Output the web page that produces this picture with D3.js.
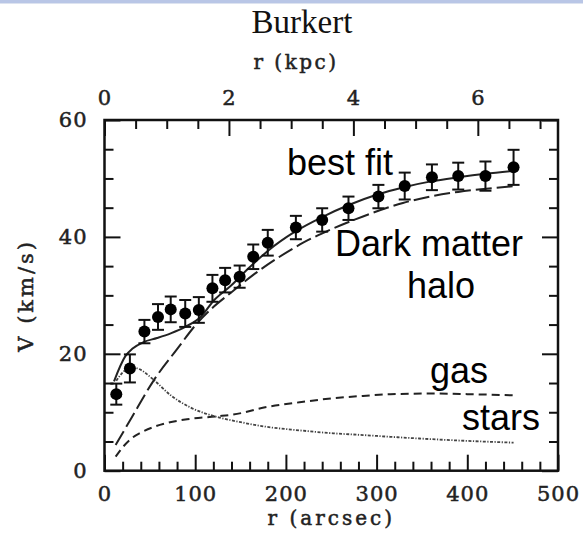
<!DOCTYPE html>
<html>
<head>
<meta charset="utf-8">
<script src="https://cdn.jsdelivr.net/npm/d3@7"></script>
<style>
  html, body { margin: 0; padding: 0; background: #fff; }
  svg { display: block; }
</style>
</head>
<body>
<svg id="chart" width="583" height="547"></svg>
<script>
// ---- data ----
const obsR   = [13, 28, 44, 59, 73, 89, 104, 119, 133, 149, 164, 180, 211, 240, 269, 302, 331, 361, 390, 420, 451];
const obsV   = [13.1, 17.5, 23.8, 26.3, 27.6, 26.9, 27.5, 31.2, 32.6, 33.2, 36.6, 39.0, 41.6, 42.9, 44.9, 46.9, 48.7, 50.2, 50.4, 50.4, 51.9];
const obsErr = [1.8, 2.4, 2.0, 2.2, 2.2, 2.3, 2.2, 2.3, 2.1, 1.9, 2.1, 2.2, 2.0, 2.0, 2.0, 2.0, 2.3, 2.2, 2.3, 2.5, 3.0];

const fitR  = [10.5, 23, 31, 43, 58, 73, 89, 106, 121, 139, 160, 180, 210, 240, 270, 300, 330, 360, 390, 420, 452];
const fitV  = [15.3, 19.6, 20.9, 22.0, 22.7, 23.5, 24.6, 26.3, 29.2, 31.6, 34.8, 37.6, 40.9, 43.4, 45.5, 47.2, 48.5, 49.5, 50.2, 50.8, 51.3];

const haloR = [12.3, 30, 54.5, 80, 102, 120, 139, 164, 190, 219, 250, 285, 329, 359, 390, 418, 452];
const haloV = [4.4, 9.1, 15.5, 20.8, 25.2, 28.0, 30.4, 33.5, 36.3, 39.0, 41.3, 43.5, 45.8, 46.9, 47.7, 48.2, 48.7];

const starsR = [13, 20, 28.8, 38, 54.5, 73, 95, 124, 150, 179, 215, 252, 285, 315, 360, 400, 451];
const starsV = [15.4, 16.8, 17.7, 17.4, 15.5, 12.9, 10.8, 9.2, 8.3, 7.5, 6.9, 6.4, 6.1, 5.8, 5.4, 5.1, 4.8];

const gasR = [12.3, 20, 28.8, 40, 54.5, 70, 91, 124, 142, 179, 215, 252, 285, 315, 362, 400, 451];
const gasV = [2.4, 4.0, 5.4, 6.5, 7.5, 8.2, 8.8, 9.3, 9.6, 10.9, 11.7, 12.4, 12.8, 13.1, 13.2, 13.1, 12.9];

const xTicksMajor = [0, 100, 200, 300, 400, 500];
const yTicksMajor = [0, 20, 40, 60];
const kpcTicksMajor = [0, 2, 4, 6];
const arcsecPerKpc = 68.6;

const labels = [
  {text: "best fit", x: 287, y: 175},
  {text: "Dark matter", x: 335, y: 256},
  {text: "halo", x: 407, y: 298},
  {text: "gas", x: 430, y: 383},
  {text: "stars", x: 462, y: 430}
];

// ---- layout ----
const svg = d3.select("#chart");
const L = 104.5, R = 558, T = 120, B = 470.7;
const x = d3.scaleLinear().domain([0, 500]).range([L, R]);
const y = d3.scaleLinear().domain([0, 60]).range([B, T]);
const xk = d3.scaleLinear().domain([0, 500 / arcsecPerKpc]).range([L, R]);

const axFont = "'DejaVu Serif', 'Liberation Serif', serif";

function axText(sel, size, spacing) {
  return sel.attr("font-family", axFont).attr("font-weight", "normal").attr("font-size", size)
    .attr("letter-spacing", spacing).attr("fill", "#222").attr("stroke", "#222").attr("stroke-width", 0.5);
}

// top band
svg.append("rect").attr("x", 0).attr("y", 0).attr("width", 583).attr("height", 3).attr("fill", "#b9c6e6");
svg.append("rect").attr("x", 0).attr("y", 3).attr("width", 583).attr("height", 1).attr("fill", "#dde3f0");

// title
svg.append("text").attr("x", 302).attr("y", 33).attr("text-anchor", "middle")
  .attr("font-family", "'Liberation Serif', 'Times New Roman', serif").attr("font-size", 33)
  .attr("fill", "#111").text("Burkert");

function styleAxis(g) {
  g.select(".domain").remove();
  g.selectAll(".tick line").attr("stroke", "#111").attr("stroke-width", 2);
  axText(g.selectAll(".tick text"), 21, 1);
}

const minorX = d3.range(0, 501, 20).filter(v => v % 100 !== 0);
const minorY = d3.range(0, 61, 5).filter(v => v % 20 !== 0);
const minorK = d3.range(0.5, 7.3, 0.5).filter(v => v % 2 !== 0);

// bottom axis
svg.append("g").attr("transform", `translate(0,${B})`)
  .call(d3.axisBottom(x).tickValues(xTicksMajor).tickSizeInner(-16).tickSizeOuter(0).tickPadding(15).tickFormat(d3.format("d")))
  .call(styleAxis);
svg.append("g").attr("transform", `translate(0,${B})`)
  .call(d3.axisBottom(x).tickValues(minorX).tickSizeInner(-9).tickSizeOuter(0).tickFormat(""))
  .call(styleAxis);

// top axis (kpc)
svg.append("g").attr("transform", `translate(0,${T})`)
  .call(d3.axisTop(xk).tickValues(kpcTicksMajor).tickSizeInner(-16).tickSizeOuter(0).tickPadding(15).tickFormat(d3.format("d")))
  .call(styleAxis);
svg.append("g").attr("transform", `translate(0,${T})`)
  .call(d3.axisTop(xk).tickValues(minorK).tickSizeInner(-9).tickSizeOuter(0).tickFormat(""))
  .call(styleAxis);

// left axis
svg.append("g").attr("transform", `translate(${L},0)`)
  .call(d3.axisLeft(y).tickValues(yTicksMajor).tickSizeInner(-16).tickSizeOuter(0).tickPadding(17).tickFormat(d3.format("d")))
  .call(styleAxis);
svg.append("g").attr("transform", `translate(${L},0)`)
  .call(d3.axisLeft(y).tickValues(minorY).tickSizeInner(-9).tickSizeOuter(0).tickFormat(""))
  .call(styleAxis);

// right axis (ticks only)
svg.append("g").attr("transform", `translate(${R},0)`)
  .call(d3.axisRight(y).tickValues(yTicksMajor).tickSizeInner(-16).tickSizeOuter(0).tickFormat(""))
  .call(styleAxis);
svg.append("g").attr("transform", `translate(${R},0)`)
  .call(d3.axisRight(y).tickValues(minorY).tickSizeInner(-9).tickSizeOuter(0).tickFormat(""))
  .call(styleAxis);

// frame
svg.append("rect").attr("x", L).attr("y", T).attr("width", R - L).attr("height", B - T)
  .attr("fill", "none").attr("stroke", "#111").attr("stroke-width", 2.5);

// axis titles
axText(svg.append("text").attr("x", (L + R) / 2).attr("y", 525).attr("text-anchor", "middle"), 20, 3)
  .text("r (arcsec)");
axText(svg.append("text").attr("x", 296).attr("y", 69).attr("text-anchor", "middle"), 20, 2.5)
  .text("r (kpc)");
axText(svg.append("text").attr("transform", `translate(33,${(T + B) / 2}) rotate(-90)`).attr("text-anchor", "middle"), 21, 3)
  .text("V (km/s)");

// curves
const line = d3.line().x(d => x(d[0])).y(d => y(d[1])).curve(d3.curveMonotoneX);
const zip = (a, b) => a.map((v, i) => [v, b[i]]);

svg.append("path").datum(zip(gasR, gasV)).attr("d", line)
  .attr("fill", "none").attr("stroke", "#222").attr("stroke-width", 2).attr("stroke-dasharray", "8,5");
svg.append("path").datum(zip(starsR, starsV)).attr("d", line)
  .attr("fill", "none").attr("stroke", "#444").attr("stroke-width", 1.8).attr("stroke-dasharray", "3,1.5,1.2,1.5");
svg.append("path").datum(zip(haloR, haloV)).attr("d", line)
  .attr("fill", "none").attr("stroke", "#222").attr("stroke-width", 2).attr("stroke-dasharray", "16,5");
svg.append("path").datum(zip(fitR, fitV)).attr("d", line)
  .attr("fill", "none").attr("stroke", "#222").attr("stroke-width", 2);

// data points with error bars
const obs = obsR.map((r, i) => ({r, v: obsV[i], e: obsErr[i]}));
const gp = svg.append("g").selectAll("g").data(obs).join("g");
gp.append("line").attr("x1", d => x(d.r)).attr("x2", d => x(d.r))
  .attr("y1", d => y(d.v - d.e)).attr("y2", d => y(d.v + d.e)).attr("stroke", "#111").attr("stroke-width", 2);
gp.append("line").attr("x1", d => x(d.r) - 6).attr("x2", d => x(d.r) + 6)
  .attr("y1", d => y(d.v + d.e)).attr("y2", d => y(d.v + d.e)).attr("stroke", "#111").attr("stroke-width", 2);
gp.append("line").attr("x1", d => x(d.r) - 6).attr("x2", d => x(d.r) + 6)
  .attr("y1", d => y(d.v - d.e)).attr("y2", d => y(d.v - d.e)).attr("stroke", "#111").attr("stroke-width", 2);
gp.append("circle").attr("cx", d => x(d.r)).attr("cy", d => y(d.v)).attr("r", 6).attr("fill", "#000");

// annotations
svg.append("g").selectAll("text").data(labels).join("text")
  .attr("x", d => d.x).attr("y", d => d.y)
  .attr("font-family", "'Liberation Sans', Arial, sans-serif").attr("font-size", 36).attr("fill", "#000")
  .text(d => d.text);
</script>
</body>
</html>
